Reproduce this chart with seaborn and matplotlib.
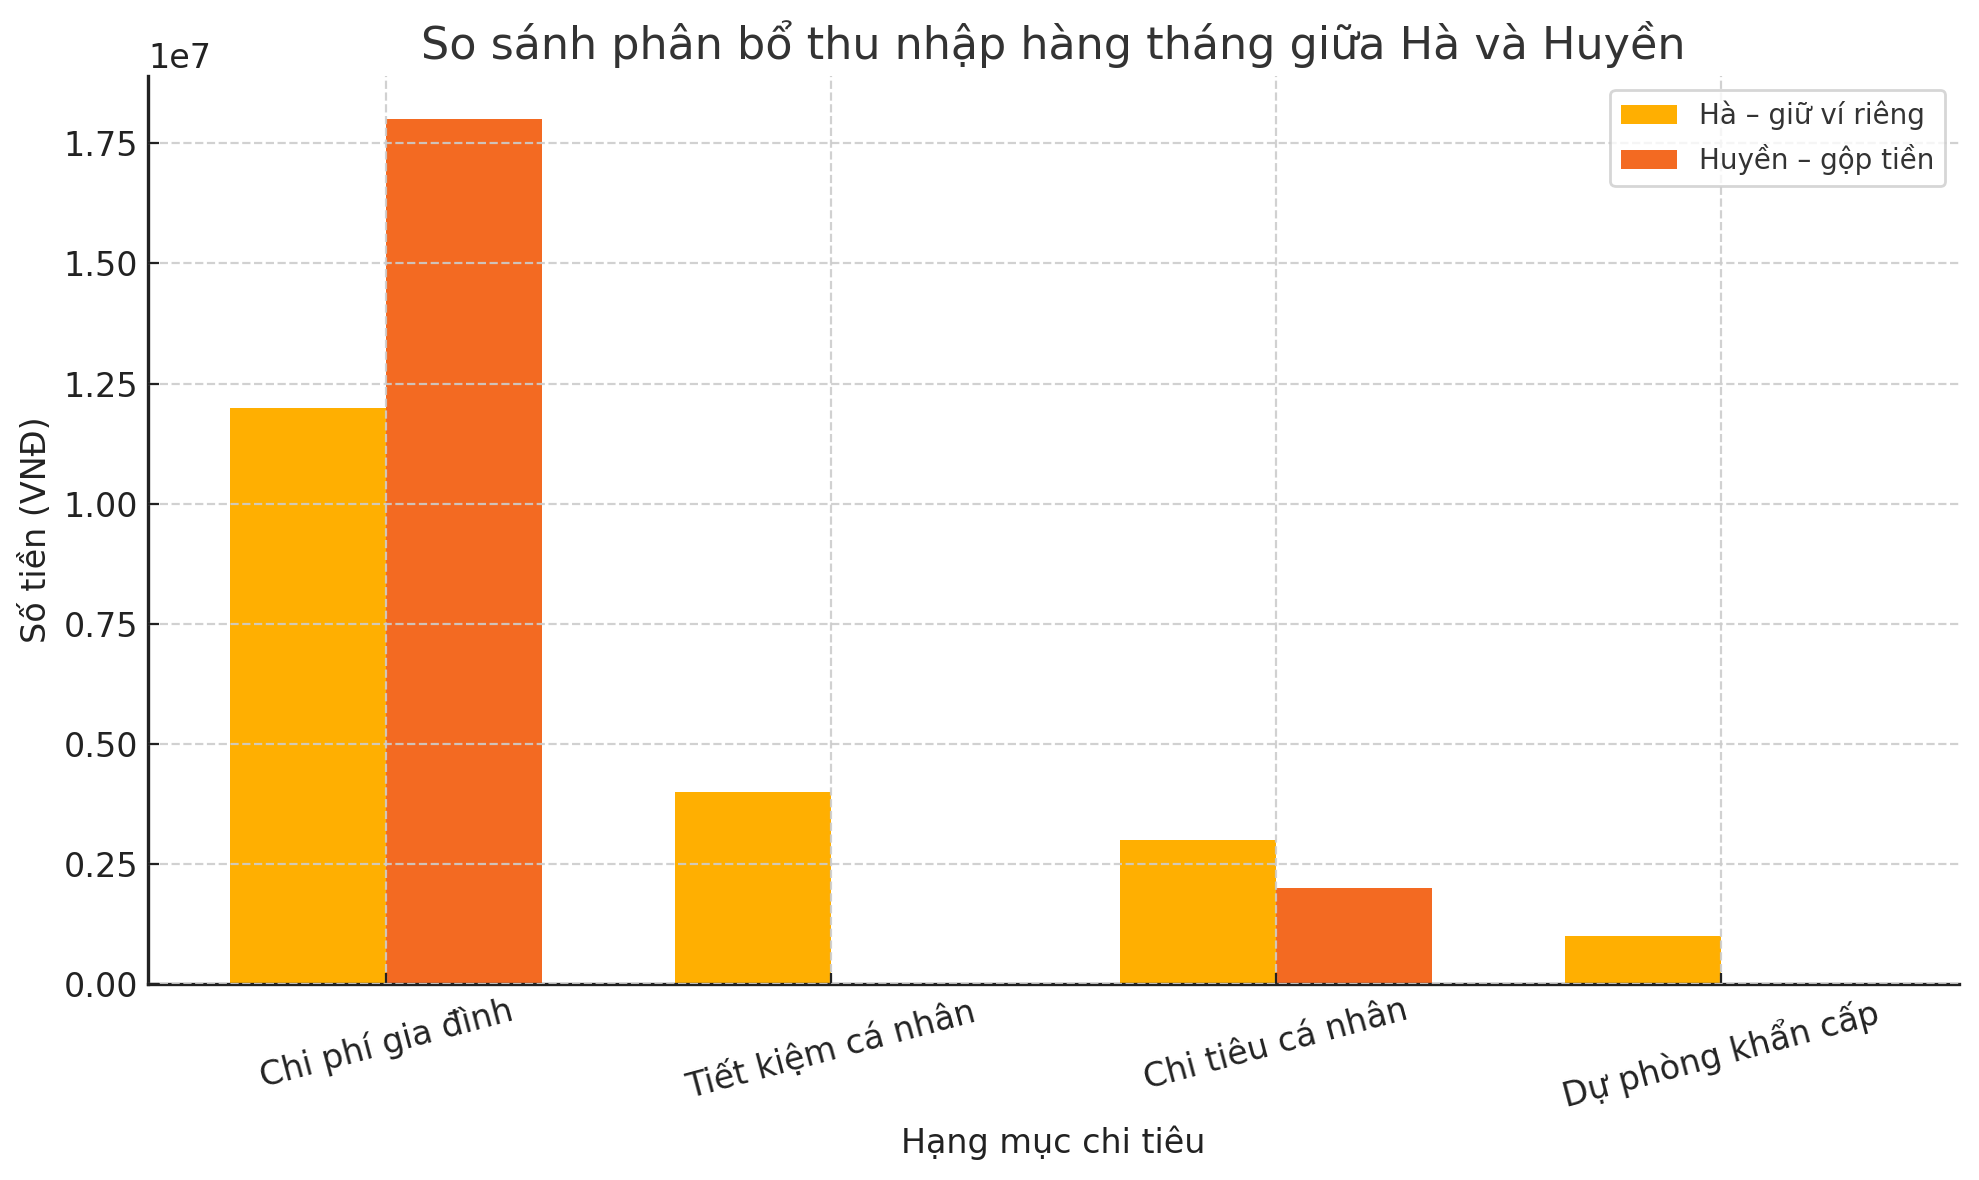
import pandas as pd
import matplotlib.pyplot as plt
import seaborn as sns

# Data
categories = ['Chi phí gia đình', 'Tiết kiệm cá nhân', 'Chi tiêu cá nhân', 'Dự phòng khẩn cấp']
ha_values = [12000000, 4000000, 3000000, 1000000]
huyen_values = [18000000, 0, 2000000, 0]
series_names = ['Hà – giữ ví riêng', 'Huyền – gộp tiền']
colors = ['#FFAF01', '#F36A22']

df = pd.DataFrame({
    'Hạng mục': categories * 2,
    'Số tiền': ha_values + huyen_values,
    'Người': [series_names[0]] * len(categories) + [series_names[1]] * len(categories),
})

sns.set_style('ticks')
plt.rcParams['font.family'] = ['DejaVu Sans']
plt.rcParams['text.color'] = '#333333'
plt.rcParams['xtick.direction'] = 'in'
plt.rcParams['ytick.direction'] = 'in'

fig, ax = plt.subplots(figsize=(9.895, 5.9), dpi=200)
fig.subplots_adjust(left=0.0748, right=0.990, top=0.9356, bottom=0.166)

sns.barplot(data=df, x='Hạng mục', y='Số tiền', hue='Người',
            palette=colors, width=0.7, errorbar=None, saturation=1,
            linewidth=0, ax=ax)

ax.set_xlim(-0.535, 3.535)
ax.set_ylim(0, 18900000)
# grid sits on top of the bars, like the original
ax.set_axisbelow(False)
ax.grid(True, linestyle='--', color='#cccccc', linewidth=0.8, alpha=0.9)
sns.despine(ax=ax)
ax.spines['left'].set_color('#222222')
ax.spines['bottom'].set_color('#222222')
ax.spines['left'].set_linewidth(1.2)
ax.spines['bottom'].set_linewidth(1.2)

ax.set_title('So sánh phân bổ thu nhập hàng tháng giữa Hà và Huyền',
             fontsize=16, color='#333333')
ax.set_xlabel('Hạng mục chi tiêu', fontsize=12, color='#222222')
ax.set_ylabel('Số tiền (VNĐ)', fontsize=12, color='#222222')
ax.tick_params(axis='both', labelsize=12, colors='#222222', length=4)
ax.yaxis.get_offset_text().set_fontsize(12)
plt.setp(ax.get_xticklabels(), rotation=15, ha='center')

leg = ax.legend(loc='upper right', fontsize=10, frameon=True, fancybox=True)
leg.get_frame().set_edgecolor('#cccccc')
for t in leg.get_texts():
    t.set_color('#333333')

fig.savefig('out.png', dpi=200)
